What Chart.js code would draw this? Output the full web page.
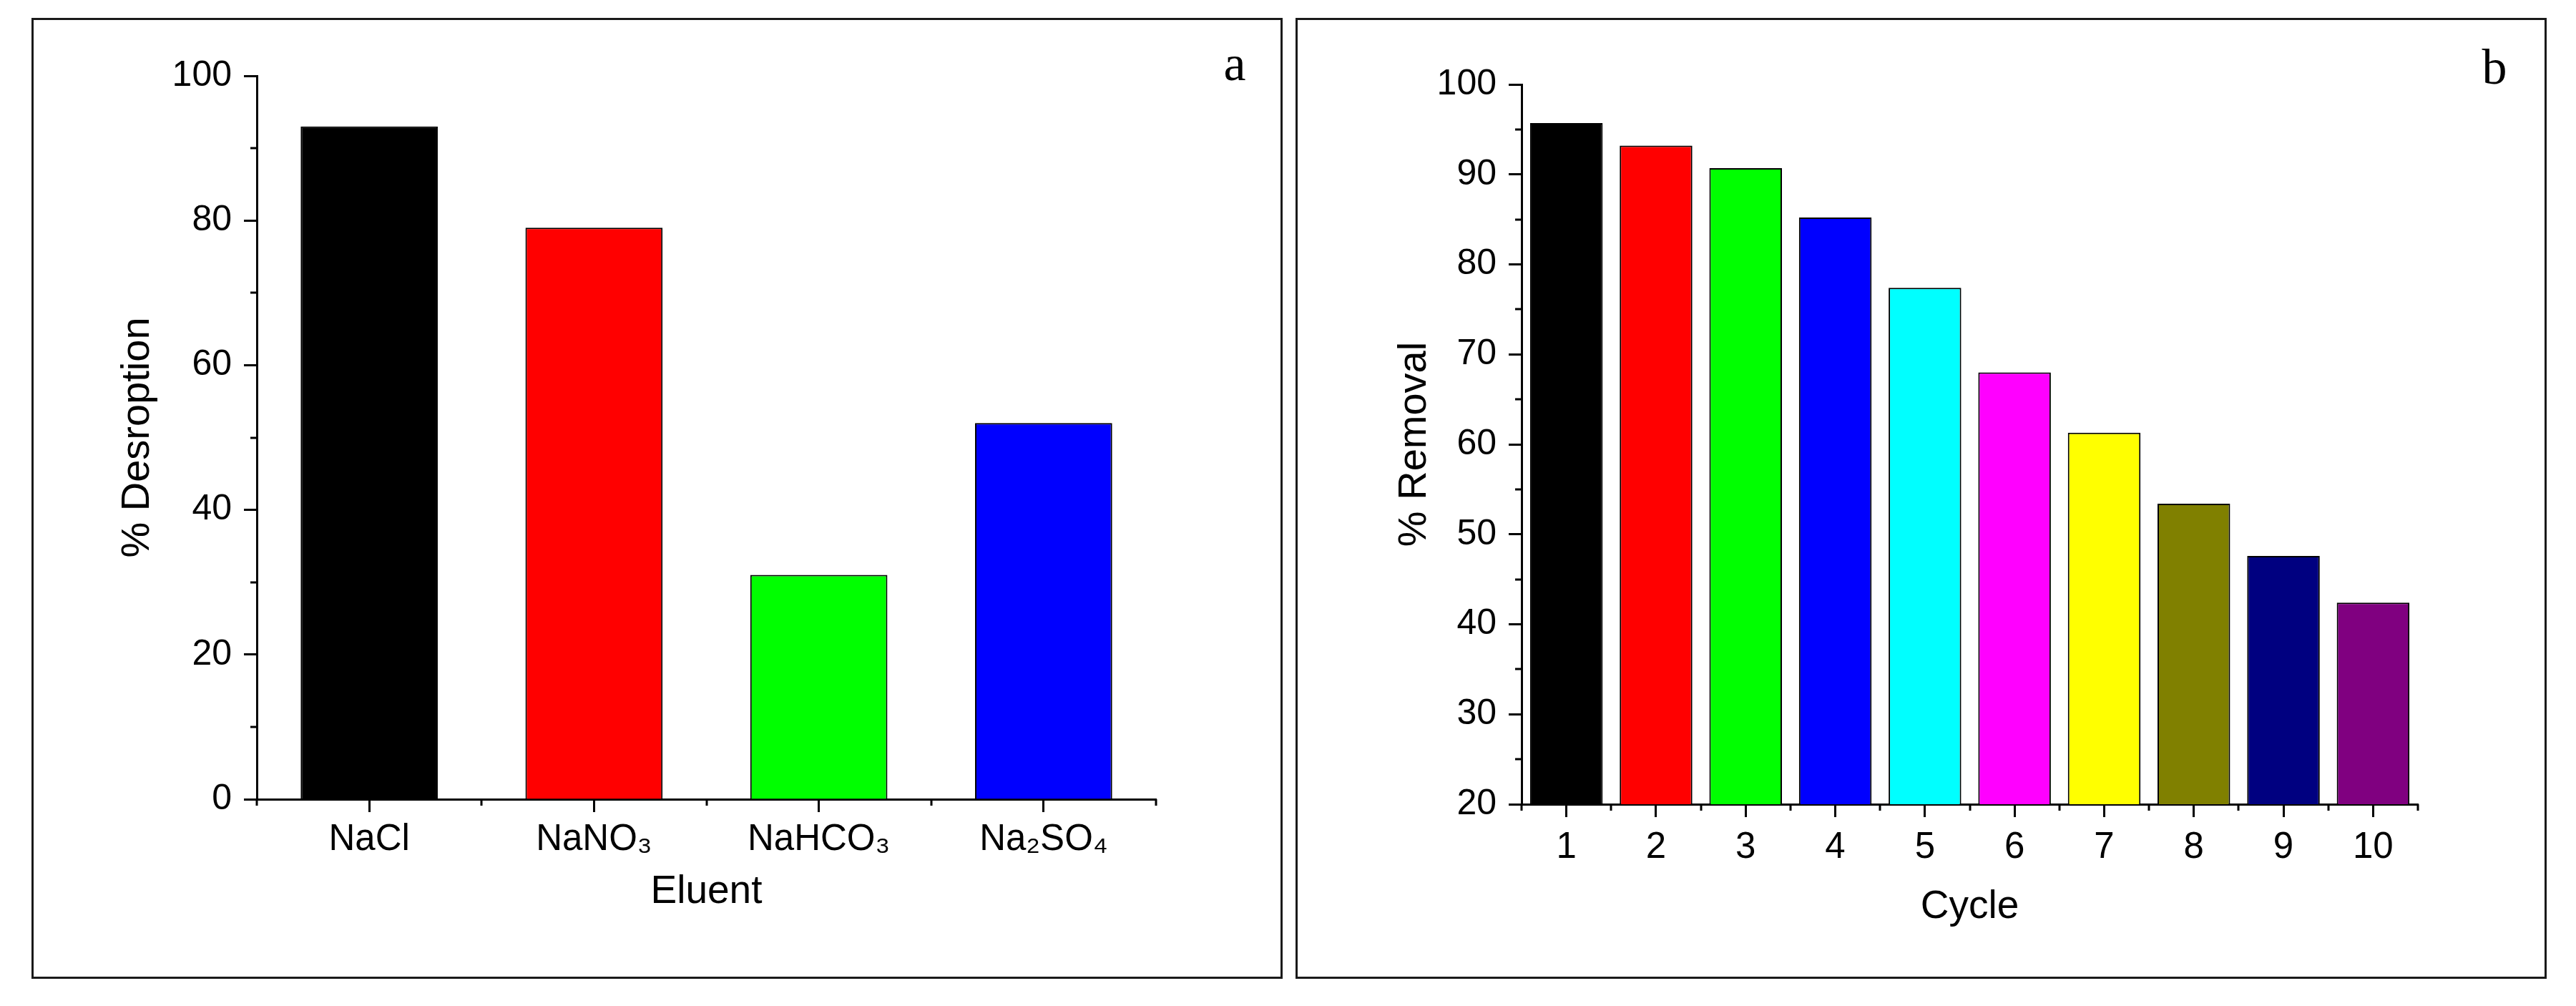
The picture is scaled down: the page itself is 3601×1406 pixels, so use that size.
<!DOCTYPE html>
<html>
<head>
<meta charset="utf-8">
<script src="https://cdn.jsdelivr.net/npm/chart.js@4.4.1/dist/chart.umd.min.js"></script>
<style>
  html, body { margin: 0; padding: 0; background: #fff; }
  #page { position: relative; width: 3601px; height: 1406px; overflow: hidden; }
  .frame { position: absolute; box-sizing: border-box; border: 3px solid #1a1a1a; }
  canvas { position: absolute; top: 0; }
</style>
</head>
<body>
<div id="page">
  <div class="frame" style="left:44px; top:25px; width:1749px; height:1343px;"></div>
  <div class="frame" style="left:1811px; top:25px; width:1749px; height:1343px;"></div>
  <canvas id="chart-a" width="1800" height="1406" style="left:0; width:1800px; height:1406px;"></canvas>
  <canvas id="chart-b" width="1801" height="1406" style="left:1800px; width:1801px; height:1406px;"></canvas>
</div>
<script>
// panel a: desorption by eluent
const eluents = ['NaCl', 'NaNO₃', 'NaHCO₃', 'Na₂SO₄'];
const desorption = [93, 79, 31, 52];
const eluentColors = ['#000000', '#ff0000', '#00ff00', '#0000ff'];
const desorptionTicks = [0, 20, 40, 60, 80, 100];
const desorptionMinor = [10, 30, 50, 70, 90];

// panel b: removal over reuse cycles
const cycles = ['1', '2', '3', '4', '5', '6', '7', '8', '9', '10'];
const removal = [95.7, 93.2, 90.7, 85.2, 77.4, 68.0, 61.3, 53.4, 47.6, 42.4];
const cycleColors = ['#000000', '#ff0000', '#00ff00', '#0000ff', '#00ffff',
                     '#ff00ff', '#ffff00', '#808000', '#000080', '#800080'];
const removalTicks = [20, 30, 40, 50, 60, 70, 80, 90, 100];
const removalMinor = [25, 35, 45, 55, 65, 75, 85, 95];

const sans = 'Liberation Sans, Arial, sans-serif';

// minor ticks on both axes plus the panel letter
const extras = {
  id: 'extras',
  afterDraw(chart, args, opts) {
    const ctx = chart.ctx;
    const x = chart.scales.x;
    const y = chart.scales.y;
    const area = chart.chartArea;
    ctx.save();
    ctx.strokeStyle = '#000';
    ctx.lineWidth = 3;
    ctx.beginPath();
    opts.minor.forEach(v => {
      const py = Math.round(y.getPixelForValue(v));
      ctx.moveTo(area.left - 9, py);
      ctx.lineTo(area.left, py);
    });
    for (let i = 0; i <= chart.data.labels.length; i++) {
      const px = Math.round(x.getPixelForValue(i - 0.5));
      ctx.moveTo(px, area.bottom);
      ctx.lineTo(px, area.bottom + 9);
    }
    ctx.stroke();
    ctx.fillStyle = '#000';
    ctx.font = '70px "Liberation Serif", "Times New Roman", serif';
    ctx.textAlign = 'center';
    ctx.textBaseline = 'alphabetic';
    ctx.fillText(opts.letter, opts.letterX, opts.letterY);
    ctx.restore();
  }
};

function makeChart(id, cfg) {
  return new Chart(document.getElementById(id), {
    type: 'bar',
    data: {
      labels: cfg.labels,
      datasets: [{
        data: cfg.values,
        backgroundColor: cfg.colors,
        borderColor: '#000',
        borderWidth: 2,
        barPercentage: cfg.barPct,
        categoryPercentage: 1
      }]
    },
    options: {
      responsive: false,
      animation: false,
      devicePixelRatio: 1,
      layout: { padding: cfg.padding },
      plugins: {
        legend: { display: false },
        tooltip: { enabled: false },
        extras: cfg.extras
      },
      scales: {
        x: {
          afterFit: s => { s.height = cfg.xHeight; },
          grid: { display: true, offset: false, drawOnChartArea: false, drawTicks: true,
                  tickLength: 18, tickWidth: 3, tickColor: '#000' },
          border: { display: true, color: '#000', width: 3 },
          ticks: { color: '#000', padding: cfg.xPad, font: { family: sans, size: 51 } },
          title: { display: true, text: cfg.xTitle, color: '#000',
                   font: { family: sans, size: 55 }, padding: { top: 0, bottom: cfg.xTitlePad } }
        },
        y: {
          min: cfg.ticks[0],
          max: cfg.ticks[cfg.ticks.length - 1],
          afterFit: s => { s.width = cfg.yWidth; },
          afterBuildTicks: s => { s.ticks = cfg.ticks.map(v => ({ value: v })); },
          grid: { display: true, drawOnChartArea: false, drawTicks: true,
                  tickLength: 18, tickWidth: 3, tickColor: '#000' },
          border: { display: true, color: '#000', width: 3 },
          ticks: { color: '#000', padding: 17, font: { family: sans, size: 50 } },
          title: { display: true, text: cfg.yTitle, color: '#000',
                   font: { family: sans, size: 56 }, padding: { top: cfg.yTitlePad, bottom: 0 } }
        }
      }
    },
    plugins: [extras]
  });
}

makeChart('chart-a', {
  labels: eluents, values: desorption, colors: eluentColors, barPct: 0.61,
  ticks: desorptionTicks,
  padding: { top: 106, right: 184, bottom: 0, left: 0 },
  xHeight: 289, yWidth: 359, xPad: 8,
  xTitle: 'Eluent', xTitlePad: 126,
  yTitle: '% Desroption', yTitlePad: 159,
  extras: { minor: desorptionMinor, letter: 'a', letterX: 1726, letterY: 112 }
});

makeChart('chart-b', {
  labels: cycles, values: removal, colors: cycleColors, barPct: 0.81,
  ticks: removalTicks,
  padding: { top: 118, right: 221, bottom: 0, left: 0 },
  xHeight: 282, yWidth: 327, xPad: 12,
  xTitle: 'Cycle', xTitlePad: 105,
  yTitle: '% Removal', yTitlePad: 144,
  extras: { minor: removalMinor, letter: 'b', letterX: 1687, letterY: 117 }
});
</script>
</body>
</html>
